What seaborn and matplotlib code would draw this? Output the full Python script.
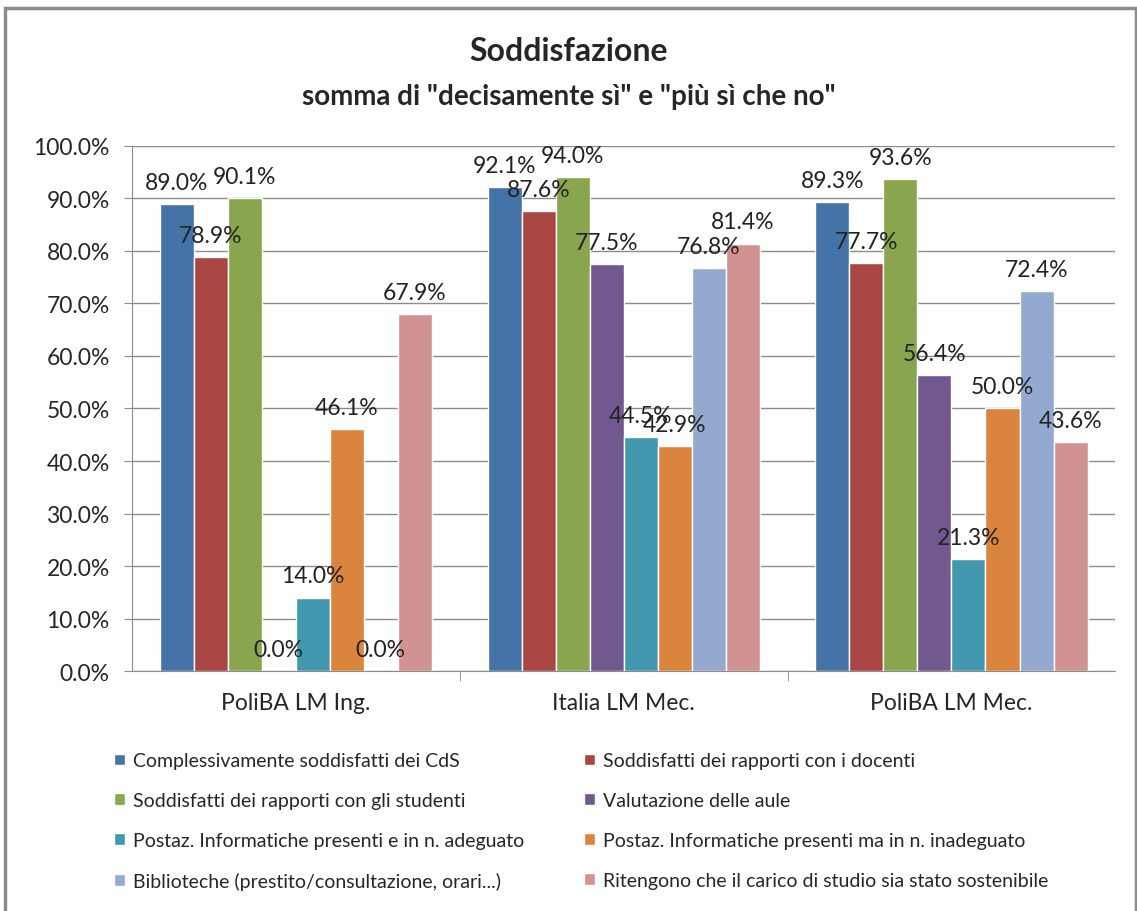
import matplotlib.pyplot as plt
import matplotlib.patches as mpatches
from matplotlib.ticker import FuncFormatter, FixedLocator
import seaborn as sns
import pandas as pd

# data
groups = ['PoliBA LM Ing.', 'Italia LM Mec.', 'PoliBA LM Mec.']
series = ['Complessivamente soddisfatti dei CdS',
          'Soddisfatti dei rapporti con i docenti',
          'Soddisfatti dei rapporti con gli studenti',
          'Valutazione delle aule',
          'Postaz. Informatiche presenti e in n. adeguato',
          'Postaz. Informatiche presenti ma in n. inadeguato',
          'Biblioteche (prestito/consultazione, orari...)',
          'Ritengono che il carico di studio sia stato sostenibile']
poliba_ing = [89.0, 78.9, 90.1, 0.0, 14.0, 46.1, 0.0, 67.9]
italia_mec = [92.1, 87.6, 94.0, 77.5, 44.5, 42.9, 76.8, 81.4]
poliba_mec = [89.3, 77.7, 93.6, 56.4, 21.3, 50.0, 72.4, 43.6]
colors = ['#4572A7', '#AA4643', '#89A54E', '#71588F',
          '#4198AF', '#DB843D', '#93A9CF', '#D19392']

rows = []
for g, vals in zip(groups, [poliba_ing, italia_mec, poliba_mec]):
    for s, v in zip(series, vals):
        rows.append({'gruppo': g, 'serie': s, 'valore': v})
df = pd.DataFrame(rows)

sns.set_style('white')
plt.rcParams['font.family'] = ['Lato', 'DejaVu Sans']

fig = plt.figure(figsize=(11.37, 9.12), dpi=100)
ax = fig.add_axes([0.116, 0.263, 0.865, 0.576])

sns.barplot(data=df, x='gruppo', y='valore', hue='serie', hue_order=series,
            palette=colors, width=0.83, saturation=1, ax=ax, legend=True)

for c in ax.containers:
    ax.bar_label(c, labels=[f'{b.get_height():.1f}%' for b in c],
                 fontsize=16.5, color='#222222', padding=8)

ax.set_ylim(0, 100)
ax.set_xlim(-0.5, 2.5)
ax.yaxis.set_major_locator(FixedLocator(range(0, 101, 10)))
ax.yaxis.set_major_formatter(FuncFormatter(lambda v, p: f'{v:.1f}%'))
ax.grid(axis='y', color='#8c8c8c', linewidth=1)
ax.set_axisbelow(True)
for side in ['top', 'right']:
    ax.spines[side].set_visible(False)
for side in ['left', 'bottom']:
    ax.spines[side].set_color('#8c8c8c')
ax.tick_params(axis='y', labelsize=16.5, length=6, color='#8c8c8c', direction='out',
               left=True, pad=10)
ax.tick_params(axis='x', labelsize=16.5, length=0, pad=15)
ax.set_xticks([0.5, 1.5], minor=True)
ax.tick_params(axis='x', which='minor', length=7, color='#8c8c8c', bottom=True)
ax.set_xlabel('')
ax.set_ylabel('')

# legend filled row by row, like the original
handles, labels = ax.get_legend_handles_labels()
ax.get_legend().remove()
order = [0, 2, 4, 6, 1, 3, 5, 7]
fig.legend([handles[i] for i in order], [labels[i] for i in order], ncol=2,
           loc='upper left', bbox_to_anchor=(0.085, 0.193),
           frameon=False, fontsize=14, handlelength=0.55, handleheight=0.55,
           handletextpad=0.4, columnspacing=3.1, labelspacing=1.17)

fig.text(0.5, 0.943, 'Soddisfazione', ha='center', va='center', fontsize=23,
         fontweight='bold')
fig.text(0.5, 0.894, 'somma di "decisamente sì" e "più sì che no"', ha='center',
         va='center', fontsize=20, fontweight='bold')

fig.patches.append(mpatches.Rectangle((0.004, -0.01), 0.995, 1.0, transform=fig.transFigure,
                                      fill=False, edgecolor='#8c8c8c', linewidth=2.5))

plt.savefig('out.png', dpi=100)
